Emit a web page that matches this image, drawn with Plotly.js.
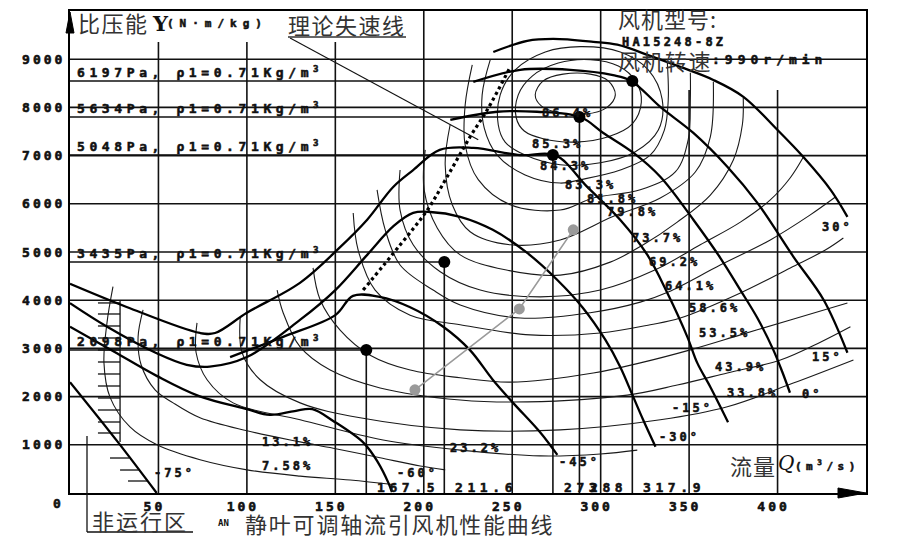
<!DOCTYPE html>
<html><head><meta charset="utf-8">
<script src="https://cdn.plot.ly/plotly-3.0.1.min.js"></script>
<style>
body{margin:0;background:#fff}
.xtick text,.ytick text{letter-spacing:3px;font-weight:bold;stroke:#111;stroke-width:0.6px}
</style>
</head><body>
<div id="chart" style="width:921px;height:540px"></div>
<script>
// ---------- blade-angle pressure curves (Q m3/s, Y N·m/kg) ----------
const angN75Q=[0,27,49], angN75Y=[2300,1060,0];
const angN60Q=[0,25,49,73,100,113,127,137,149,166,174,180,182];
const angN60Y=[3450,2930,2430,2010,1740,1620,1700,1740,1490,1040,640,210,20];
const angN45Q=[90.5,120.5,150,160,175,192,211,226,239,250.5,266,275.5];
const angN45Y=[2820,3240,3690,4090,4070,3860,3450,2970,2350,1870,1250,790];
const angN30Q=[0,21,49,66,79,100,130,150,168,183,194,203.6,220.6,239,258.5,275.5,290,302.6,311,318,324,331];
const angN30Y=[3940,3450,2900,2660,2620,2820,3590,4210,4940,5540,5810,5830,5730,5460,4980,4420,3840,3180,2620,2030,1520,960];
const angN15Q=[0,32,73.5,82,100,130,152.7,168,182.7,194,209,228,254.5,274.3,292.4,311,326.4,337.7,349,354.6,362,372];
const angN15Y=[4340,3860,3320,3320,3740,4360,5100,5670,6350,6700,7120,7160,7010,7010,6350,5670,4940,4150,3240,2700,2200,1470];
const ang0Q=[215,241.5,264,288.5,301.5,318.4,333.7,352.4,367.6,379,388.6,397.6,402.7,407];
const ang0Y=[7740,7910,7910,7800,7470,7060,6560,5670,4880,4210,3630,2970,2510,2080];
const ang15Q=[228,254.5,282.8,307,317.3,333.7,352.4,371.6,388.6,409,426,439.5];
const ang15Y=[8530,8780,8780,8670,8550,8010,7470,6770,6020,4900,4010,2910];
const ang30Q=[239.3,258.5,273.2,295.8,309.4,328,345,363.7,380.7,400,414.6,430,439.5];
const ang30Y=[9150,9380,9420,9360,9300,9070,8840,8570,8220,7530,6970,6290,5730];

// theoretical stall line + its leader
const stallQ=[165.7,186.7,202,213.2,226.2,235.9,248.9];
const stallY=[4210,5150,5870,6560,7390,7950,8840];
const leaderQ=[124.4,230.8], leaderY=[9440,7330];

// grey line
const grayQ=[195,254,284.5], grayY=[2140,3820,5460];

// operating points
const ptQ=[167.5,211.6,273,288,317.9];
const ptY=[2967,4793,7014,7802,8549];
const ptPa=['2098','3435','5048','5634','6197'];
const ptQText=['167.5','211.6','273','288','317.9'];

// efficiency contours
const e864Q=[263,267.5,278.8,294.1,304.3,308.3,303.2,291.3,276,266.4,263];
const e864Y=[8260,8550,8690,8690,8550,8260,7990,7860,7890,8030,8260];
const e853Q=[252.3,253.4,261.3,276,294.1,310,320.1,323,317.9,304.3,285.6,267.5,256.8,252.3];
const e853Y=[7780,8260,8650,8920,8990,8860,8530,8110,7660,7390,7280,7350,7510,7780];
const e843Q=[242.1,243.2,251.7,268.7,288.5,311.1,326.9,334.8,332.6,319.6,299.8,277.1,257.3,246,242.1];
const e843Y=[7640,8260,8780,9150,9260,9150,8780,8160,7530,7080,6850,6810,7010,7280,7640];
const e833Q=[237.6,233,234.2,241.5,257.3,277.1,288.5,311.1,328,336,338.2,337.7];
const e833Y=[8990,8260,7570,7010,6600,6430,6500,6700,7010,7530,8160,8920];
const e818Q=[227.4,223.4,223.4,230.8,248.9,277.1,295.8,322.4,342.2,349.5,350.7,350.7];
const e818Y=[8880,8050,7220,6500,5980,5870,6120,6290,6660,7330,8160,8720];
const e798Q=[214.9,212.1,216.1,226.2,248.9,277.1,306.6,333.7,353.5,362,363.7];
const e798Y=[7640,6810,5980,5420,5150,5250,5730,6120,6660,7390,8530];
const e737Q=[200.8,200.2,207.6,220.6,246,277.1,305.4,324.1,343.3,362,375,380.1,380.6];
const e737Y=[7120,6290,5500,4940,4630,4520,4790,5150,5620,6180,6910,7640,8200];
const e692Q=[186.6,186.6,194,209.3,231.9,265.8,299.8,330.9,356.3,379,395.9,407.2,414.6];
const e692Y=[6700,5870,5150,4590,4210,4070,4210,4630,5150,5620,6080,6540,6970];
const e641Q=[173.6,178.2,186.6,205.3,220.6,254.5,294.1,322.4,338.2,367.6,395.9,418.5,432.7];
const e641Y=[6290,5460,4730,4210,3900,3630,3740,3960,4170,4730,5250,5770,6140];
const e586Q=[160.1,162.9,172.5,192.3,220.6,260.2,299.8,328,345,379,407.2,427,437.2];
const e586Y=[5810,5040,4210,3690,3490,3280,3320,3490,3630,4150,4670,5040,5290];
const e535Q=[137.4,141.4,152.7,169.7,192.3,220.6,248.9,295.8,322.4,350.7,379,407.2,439.5];
const e535Y=[4670,4010,3380,2860,2550,2390,2300,2490,2700,2970,3280,3590,3940];
const e439Q=[117.1,120.5,130.1,147.1,175.3,220.6,258.5,315,343.3,371.6,401.6,424.2,441.2];
const e439Y=[4210,3740,3030,2550,2180,1930,1890,2030,2240,2490,2760,3130,3450];
const e338Q=[96.2,97.3,107.5,130.1,164,220.6,277.1,333.7,371.6,408.9,442.9];
const e338Y=[3630,2910,2350,1870,1560,1310,1310,1520,1790,2280,2760];
const e232Q=[71.8,71.3,77.5,92.2,130.1,177,220.6,265.8,299.8,320.7];
const e232Y=[3530,2910,2350,1870,1520,1100,890,770,810,890];
const e131Q=[41.3,38.5,40.2,48.1,58.3,73.5,100.1,130.1,148.8,175.3,198,212.1];
const e131Y=[3800,3240,2660,2140,1870,1560,1290,1060,930,730,560,480];
const e758Q=[24.3,20.9,19.2,22.6,33.9,49.2,73.5,100.1,130.1,158.4,183.8];
const e758Y=[4280,3530,2700,1990,1370,1000,690,480,350,270,170];

// labels
const effText=['86.4%','85.3%','84.3%','83.3%','81.8%','79.8%','73.7%','69.2%','64.1%','58.6%','53.5%','43.9%','33.8%','23.2%','13.1%','7.58%'];
const effLabQ=[265.8,260.2,264.7,278.8,291.3,302.6,316.7,326.4,335.4,349,354.6,363.7,370.5,213.8,107.5,107.5];
const effLabY=[7885,7242,6785,6391,6101,5831,5291,4793,4295,3839,3320,2614,2075,934,1058,560];
const angText=['-75°','-60°','-45°','-30°','-15°','0°','15°','30°'];
const angLabQ=[46.4,183.8,275.5,332,339.4,412.9,418.5,424.2];
const angLabY=[415,415,643,1162,1764,2054,2822,5520];

// axes / grid
const xTicks=[50,100,150,200,250,300,350,400];
const xGridTop=[9358,9358,9358,10000,10000,10000,8362,8362];
const yTicks=[1000,2000,3000,4000,5000,6000,7000,8000,9000];

// non-operating zone hatching
const hatchY=[3943,3714,3465,3216,2967,2718,2469,2220,1971,1722,1473,1245];
const hatchQ0=15.8, hatchQ1=28.3;
const hatchLowY=[726,477,249], hatchLowQ0=[22.6,28.3,32.8], hatchLowQ1=[33.5,38.8,43.7];

const traces=[];
function line(q,y,w,c,extra){traces.push(Object.assign({x:q,y:y,mode:'lines',line:{color:c,width:w,shape:'spline',smoothing:1},hoverinfo:'skip',showlegend:false},extra||{}));}

[[e864Q,e864Y],[e853Q,e853Y],[e843Q,e843Y],[e833Q,e833Y],[e818Q,e818Y],[e798Q,e798Y],[e737Q,e737Y],[e692Q,e692Y],[e641Q,e641Y],[e586Q,e586Y],[e535Q,e535Y],[e439Q,e439Y],[e338Q,e338Y],[e232Q,e232Y],[e131Q,e131Y],[e758Q,e758Y]].forEach(p=>line(p[0],p[1],1.1,'#1a1a1a'));

for(let i=0;i<ptQ.length;i++){
  traces.push({x:[0,ptQ[i]],y:[ptY[i],ptY[i]],mode:'lines',line:{color:'#111',width:1.6},hoverinfo:'skip',showlegend:false});
  traces.push({x:[ptQ[i],ptQ[i]],y:[0,ptY[i]],mode:'lines',line:{color:'#111',width:1.6},hoverinfo:'skip',showlegend:false});
}
hatchY.forEach(v=>traces.push({x:[hatchQ0,hatchQ1],y:[v,v],mode:'lines',line:{color:'#111',width:1.3},hoverinfo:'skip',showlegend:false}));
traces.push({x:[hatchQ1,hatchQ1],y:[1058,4005],mode:'lines',line:{color:'#111',width:1.3},hoverinfo:'skip',showlegend:false});
hatchLowY.forEach((v,i)=>traces.push({x:[hatchLowQ0[i],hatchLowQ1[i]],y:[v,v],mode:'lines',line:{color:'#111',width:1.3},hoverinfo:'skip',showlegend:false}));

[[angN75Q,angN75Y],[angN60Q,angN60Y],[angN45Q,angN45Y],[angN30Q,angN30Y],[angN15Q,angN15Y],[ang0Q,ang0Y],[ang15Q,ang15Y],[ang30Q,ang30Y]].forEach(p=>line(p[0],p[1],2.3,'#000'));

line(stallQ,stallY,3.2,'#000',{}); traces[traces.length-1].line.dash='dot';
traces.push({x:leaderQ,y:leaderY,mode:'lines',line:{color:'#111',width:1.1},hoverinfo:'skip',showlegend:false});

traces.push({x:grayQ,y:grayY,mode:'lines+markers',line:{color:'#9a9a9a',width:1.6},marker:{color:'#9a9a9a',size:11},hoverinfo:'skip',showlegend:false});
traces.push({x:ptQ,y:ptY,mode:'markers',marker:{color:'#000',size:12},hoverinfo:'skip',showlegend:false});

const MONO='DejaVu Sans Mono', CJK='Noto Sans CJK SC';
function sp(t,s){return '<span style="letter-spacing:'+s+'px">'+t+'</span>';}
function bsp(t,s){return '<b><span style="letter-spacing:'+s+'px;stroke:#111;stroke-width:0.55px">'+t+'</span></b>';}
const ann=[];
function A(o){ann.push(Object.assign({showarrow:false,xanchor:'left',yanchor:'middle'},o));}

for(let i=0;i<ptQ.length;i++){
  A({x:2.8,y:ptY[i],yshift:9,text:bsp(ptPa[i]+'Pa, ρ1=0.71Kg/m<sup>3</sup>',4.6),font:{family:MONO,size:13,color:'#111'}});
  A({x:ptQ[i],y:104,xshift:9,text:bsp(ptQText[i],4.6),font:{family:MONO,size:13,color:'#111'}});
}
effText.forEach((t,i)=>A({x:effLabQ[i],y:effLabY[i],text:bsp(t,3),font:{family:MONO,size:12,color:'#111'}}));
angText.forEach((t,i)=>A({x:angLabQ[i],y:angLabY[i],text:bsp(t,3),font:{family:MONO,size:12,color:'#111'}}));

const P=(px)=>(px-70)/796, PY=(py)=>(493-py)/482;
function T(px,py,text,font){A({xref:'paper',yref:'paper',x:P(px),y:PY(py),text:text,font:font});}
T(76,22,sp('比压能',1.5),{family:CJK,size:22,color:'#333'});
T(150,23,'<b>Y</b>',{family:'DejaVu Serif',size:21,color:'#111'});
T(165,23,bsp('(N·m/kg)',6),{family:MONO,size:11,color:'#111'});
T(286,24,sp('理论失速线',1.5),{family:CJK,size:22,color:'#333'});
T(616,18,sp('风机型号:',1),{family:CJK,size:22,color:'#333'});
T(620,42,bsp('HA15248-8Z',3.2),{family:MONO,size:12,color:'#111'});
T(616,60,sp('风机转速',1.5),{family:CJK,size:22,color:'#333'});
T(710,60,bsp(':990r/min',5),{family:MONO,size:13,color:'#111'});
T(728,465,sp('流量',1),{family:CJK,size:22,color:'#333'});
T(776,463,'<i>Q</i>',{family:'DejaVu Serif',size:20,color:'#111'});
T(793,465,bsp('(m<sup>3</sup>/s)',4.5),{family:MONO,size:11,color:'#111'});
T(90,520,sp('非运行区',2),{family:CJK,size:22,color:'#333'});
T(216,523,'<b>AN</b>',{family:MONO,size:9,color:'#111'});
T(243,523,sp('静叶可调轴流引风机性能曲线',1.8),{family:CJK,size:22,color:'#333'});
A({xref:'paper',yref:'paper',x:P(57),y:PY(504),xanchor:'center',text:bsp('0',0),font:{family:MONO,size:13,color:'#111'}});

const shapes=[];
xTicks.forEach((v,i)=>shapes.push({type:'line',layer:'below',x0:v,x1:v,y0:0,y1:xGridTop[i],line:{color:'#111',width:1.6}}));
yTicks.forEach(v=>shapes.push({type:'line',layer:'below',x0:0,x1:450,y0:v,y1:v,line:{color:'#111',width:1.6}}));
shapes.push({type:'line',xref:'paper',yref:'paper',x0:P(288),x1:P(406),y0:PY(37),y1:PY(37),line:{color:'#333',width:1.5}});
shapes.push({type:'line',xref:'paper',yref:'paper',x0:P(87),x1:P(87),y0:PY(436),y1:PY(532),line:{color:'#111',width:1.3}});
shapes.push({type:'line',xref:'paper',yref:'paper',x0:P(87),x1:P(193),y0:PY(532),y1:PY(532),line:{color:'#111',width:1.3}});
shapes.push({type:'path',xref:'paper',yref:'paper',path:'M '+P(66)+' '+PY(33)+' L '+P(70)+' '+PY(12)+' L '+P(74)+' '+PY(33)+' Z',fillcolor:'#000',line:{color:'#000',width:1}});
shapes.push({type:'path',xref:'paper',yref:'paper',path:'M '+P(838)+' '+PY(488)+' L '+P(866)+' '+PY(493)+' L '+P(838)+' '+PY(498)+' Z',fillcolor:'#000',line:{color:'#000',width:1}});

const axFont={family:MONO,size:13,color:'#111',weight:'bold'};
const layout={
  width:921,height:540,margin:{l:70,r:55,t:11,b:47},
  paper_bgcolor:'#fff',plot_bgcolor:'#fff',
  xaxis:{range:[0,450],showgrid:false,zeroline:false,showline:true,linewidth:2,linecolor:'#000',mirror:true,
    tickvals:xTicks,ticktext:xTicks.map(String),ticks:'',tickfont:axFont,ticklabelshift:-4,fixedrange:true},
  yaxis:{range:[0,10000],showgrid:false,zeroline:false,showline:true,linewidth:2,linecolor:'#000',mirror:true,
    tickvals:yTicks,ticktext:yTicks.map(String),ticks:'',tickfont:axFont,fixedrange:true},
  annotations:ann,shapes:shapes,showlegend:false
};
Plotly.newPlot('chart',traces,layout,{displayModeBar:false,staticPlot:true});
</script>
</body></html>
